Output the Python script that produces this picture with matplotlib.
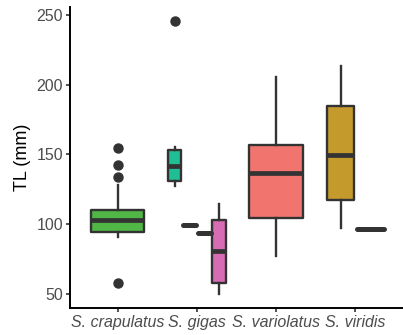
import matplotlib
matplotlib.use("Agg")
import matplotlib.pyplot as plt

# Categories on the x axis
species = ["S. crapulatus", "S. gigas", "S. variolatus", "S. viridis"]

# Box statistics (mm), one entry per dodged box
box_species = [0, 1, 1, 1, 1, 2, 3, 3]
box_slot    = [0, 0, 1, 2, 3, 0, 0, 1]
box_nslots  = [1, 4, 4, 4, 4, 1, 2, 2]
whislo = [91.0, 127.4, 99.3, 93.6, 50.0, 77.4, 97.1, 96.9]
q1     = [94.5, 130.7, 99.3, 93.6, 57.9, 104.8, 117.1, 96.9]
med    = [102.9, 142.1, 99.3, 93.6, 81.0, 137.1, 149.8, 96.9]
q3     = [110.2, 152.9, 99.3, 93.6, 102.9, 156.9, 184.5, 96.9]
whishi = [128.0, 155.7, 99.3, 93.6, 114.3, 205.5, 213.6, 96.9]
fliers = [[155.0, 142.6, 133.8, 57.9], [245.7], [], [], [], [], [], []]
fills  = ["#50B747", "#20BE94", "#00B6EB", "#A58AFF", "#D86CB4",
          "#F1756E", "#C59A2D", "#7CAE00"]

y_ticks = [50, 100, 150, 200, 250]

fig = plt.figure(figsize=(4.03, 3.35), dpi=100)
ax = fig.add_axes([70/403, 27/335, 333/403, 301/335])

total_w = 0.75
stats, positions, widths = [], [], []
for i in range(len(med)):
    n = box_nslots[i]
    slot_w = total_w / n
    pos = box_species[i] + 1 - total_w / 2 + slot_w * (box_slot[i] + 0.5)
    positions.append(pos)
    widths.append(slot_w * 0.9)
    stats.append(dict(whislo=whislo[i], q1=q1[i], med=med[i], q3=q3[i],
                      whishi=whishi[i], fliers=fliers[i]))

edge = "#333333"
bp = ax.bxp(stats, positions=positions, widths=widths, patch_artist=True,
            showcaps=False,
            boxprops=dict(edgecolor=edge, linewidth=1.7),
            whiskerprops=dict(color=edge, linewidth=1.7),
            medianprops=dict(color=edge, linewidth=3.4, solid_capstyle="butt"),
            flierprops=dict(marker="o", markerfacecolor=edge, markeredgecolor=edge,
                            markersize=6.5, linestyle="none"))
for patch, c in zip(bp["boxes"], fills):
    patch.set_facecolor(c)
    patch.set_joinstyle("round")
for i, m in enumerate(bp["medians"]):
    m.set_zorder(5)
    if q1[i] == q3[i]:
        m.set_solid_capstyle("round")
        m.set_linewidth(3.6)

ax.set_xlim(0.4, 4.6)
ax.set_ylim(40.2, 255.5)
ax.set_xticks(range(1, len(species) + 1))
ax.set_xticklabels(species, fontstyle="italic")
ax.set_yticks(y_ticks)
ax.set_ylabel("TL (mm)", fontsize=13, family="Liberation Sans", labelpad=4)

for s in ["top", "right"]:
    ax.spines[s].set_visible(False)
for s in ["left", "bottom"]:
    ax.spines[s].set_linewidth(1.4)
    ax.spines[s].set_color("black")
ax.tick_params(axis="both", length=3, width=1.2, color="#333333",
               labelcolor="#4D4D4D", labelsize=11.5, pad=2)
for lab in ax.get_xticklabels() + ax.get_yticklabels():
    lab.set_family("Liberation Sans")

fig.savefig("out.png", dpi=100)
